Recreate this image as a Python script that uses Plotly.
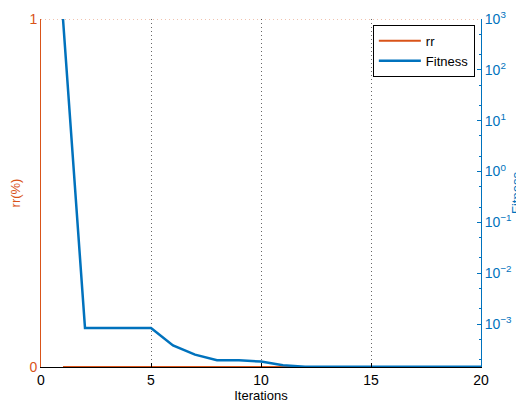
import plotly.graph_objects as go

iterations = list(range(1, 21))
rr = [0] * 20
fitness = [1000, 8.3e-4, 8.3e-4, 8.3e-4, 8.3e-4, 3.8e-4, 2.5e-4, 1.94e-4, 1.94e-4, 1.82e-4,
           1.55e-4, 1.45e-4, 1.45e-4, 1.45e-4, 1.45e-4, 1.45e-4, 1.45e-4, 1.45e-4, 1.45e-4, 1.45e-4]
x_ticks = [0, 5, 10, 15, 20]
rr_ticks = [0, 1]
fit_ticks = [1e-3, 1e-2, 1e-1, 1, 10, 100, 1000]
fit_ticklabels = ["10<sup>−3</sup>", "10<sup>−2</sup>", "10<sup>−1</sup>", "10<sup>0</sup>",
                  "10<sup>1</sup>", "10<sup>2</sup>", "10<sup>3</sup>"]

ORANGE = "#D95319"
BLUE = "#0072BD"
FONT = "Liberation Sans, Arial, sans-serif"

fig = go.Figure()
fig.add_trace(go.Scatter(x=iterations, y=rr, mode="lines", name="rr",
                         line=dict(color=ORANGE, width=2), yaxis="y"))
fig.add_trace(go.Scatter(x=iterations, y=fitness, mode="lines", name="Fitness",
                         line=dict(color=BLUE, width=2.5), yaxis="y2"))

# top grid line of the left axis (rr = 1)
fig.add_shape(type="line", xref="paper", yref="y", x0=0, x1=1, y0=1, y1=1,
              line=dict(color="rgba(217,83,25,0.7)", width=1, dash="1px,3px"), layer="below")

# the page body has an 8px margin, so the figure is sized/offset to compensate
fig.update_layout(
    width=516, height=396,
    margin=dict(l=33, r=43, t=11, b=37),
    paper_bgcolor="white", plot_bgcolor="white",
    font=dict(family=FONT, size=13, color="black"),
    showlegend=True,
    legend=dict(x=0.986, y=0.983, xanchor="right", yanchor="top",
                bordercolor="black", borderwidth=1, bgcolor="white",
                font=dict(size=13), tracegroupgap=0, itemwidth=42),
    xaxis=dict(range=[0, 20], tickvals=x_ticks, ticks="inside", ticklen=4,
               tickcolor="black", showline=True, linecolor="black", linewidth=1,
               showgrid=True, gridcolor="rgba(0,0,0,0.6)", griddash="1px,3px", gridwidth=1,
               zeroline=False, automargin=False,
               title=dict(text="Iterations", font=dict(size=13), standoff=2),
               tickfont=dict(size=14)),
    yaxis=dict(range=[0, 1], tickvals=rr_ticks, ticks="inside", ticklen=4,
               tickcolor=ORANGE, showline=True, linecolor=ORANGE, linewidth=1,
               showgrid=False, zeroline=False, automargin=False,
               tickfont=dict(color=ORANGE, size=14),
               title=dict(text="rr(%)", font=dict(color=ORANGE, size=13), standoff=9)),
    yaxis2=dict(type="log", range=[-3.846, 3], overlaying="y", side="right",
                tickvals=fit_ticks, ticktext=fit_ticklabels,
                ticks="inside", ticklen=4, tickcolor=BLUE,
                minor=dict(ticks="inside", ticklen=2, tickcolor=BLUE, showgrid=False),
                showline=True, linecolor=BLUE, linewidth=1, showgrid=False,
                zeroline=False, automargin=False, tickfont=dict(color=BLUE, size=14),
                title=dict(text="Fitness", font=dict(color=BLUE, size=13), standoff=4)),
)

fig.write_html("out.html")
